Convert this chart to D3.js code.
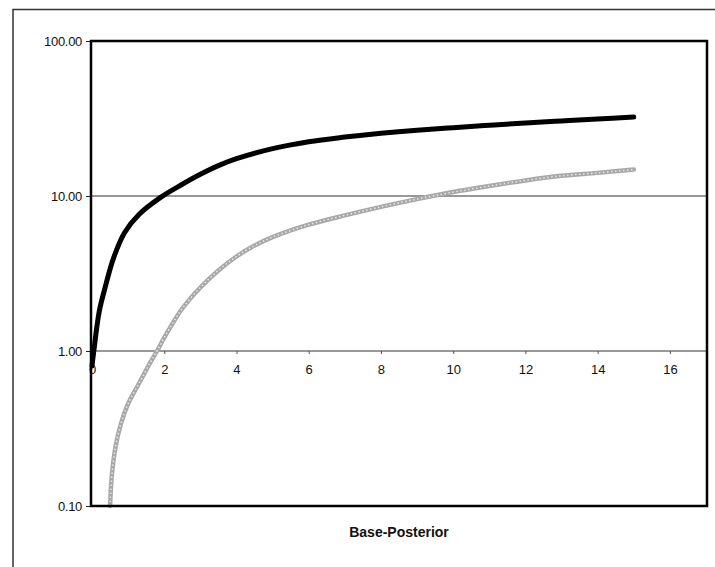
<!DOCTYPE html>
<html><head><meta charset="utf-8">
<script src="https://cdn.jsdelivr.net/npm/d3@7"></script>
<style>body{margin:0;background:#fff}svg{display:block}text{font-family:Arial,"Liberation Sans",sans-serif}</style>
</head><body>
<svg id="c" width="715" height="567"></svg>
<script>
const xTicks = [0, 2, 4, 6, 8, 10, 12, 14, 16];
const yTicks = [0.1, 1, 10, 100];
const yGrid = [1, 10];
const xTitle = "Base-Posterior";

const xBlack = [0, 0.05, 0.2, 0.35, 0.6, 0.9, 1.3, 1.9, 2.5, 3, 3.5, 4, 5, 6, 7, 8, 9, 10, 11, 12, 13, 14, 15];
const yBlack = [0.8, 1.0, 1.8, 2.5, 4.0, 5.8, 7.6, 9.8, 11.9, 13.8, 15.7, 17.4, 20.2, 22.4, 24.0, 25.4, 26.6, 27.6, 28.6, 29.6, 30.5, 31.4, 32.3];

const xGray = [0.5, 0.55, 0.65, 0.8, 1.0, 1.3, 1.6, 1.8, 2.0, 2.25, 2.5, 3.0, 3.5, 4, 4.5, 5, 6, 7, 8, 9, 10, 11, 12, 13, 14, 15];
const yGray = [0.1, 0.158, 0.24, 0.339, 0.457, 0.617, 0.832, 1.0, 1.22, 1.53, 1.88, 2.57, 3.31, 4.07, 4.79, 5.43, 6.53, 7.5, 8.51, 9.55, 10.6, 11.6, 12.6, 13.5, 14.1, 14.8];

const svg = d3.select("#c");
const L = 91, R = 707, T = 41, B = 506;
const x = d3.scaleLinear().domain([0, 17]).range([92, 706]);
const y = d3.scaleLog().domain([0.1, 100]).range([B, T]);

// outer frame
svg.append("path").attr("d", `M13,580 L13,9.5 L720,9.5`).attr("fill","none").attr("stroke","#333").attr("stroke-width",1.5);

// gridlines
svg.selectAll(".grid").data(yGrid).enter().append("line")
  .attr("x1", L).attr("x2", R).attr("y1", d => y(d)).attr("y2", d => y(d))
  .attr("stroke", "#333").attr("stroke-width", 1.2);

// y axis
const yAxis = d3.axisLeft(y).tickValues(yTicks).tickFormat(d3.format(".2f")).tickSize(5).tickPadding(4);
const gy = svg.append("g").attr("transform", `translate(${L},0)`).call(yAxis);
gy.select(".domain").remove();
gy.selectAll("text").attr("font-size", 13).attr("letter-spacing", "-0.3px").attr("fill", "#111");
gy.selectAll("line").attr("stroke", "#222");

// x axis crossing at y=1
const xAxis = d3.axisBottom(x).tickValues(xTicks).tickFormat(d3.format("d")).tickSize(3).tickPadding(11);
const gx = svg.append("g").attr("transform", `translate(0,${y(1)})`).call(xAxis);
gx.select(".domain").remove();
gx.selectAll("text").attr("font-size", 13).attr("fill", "#111");
gx.selectAll("line").attr("stroke", "#555");

// series
const curve = d3.curveCatmullRom.alpha(0.5);
const lineB = d3.line().x((d, i) => x(xBlack[i])).y(d => y(d)).curve(curve);
const lineG = d3.line().x((d, i) => x(xGray[i])).y(d => y(d)).curve(curve);

svg.append("path").attr("d", lineG(yGray)).attr("fill", "none")
  .attr("stroke", "#a8a8a8").attr("stroke-width", 4.5).attr("stroke-linecap", "round");
svg.append("path").attr("d", lineG(yGray)).attr("fill", "none")
  .attr("stroke", "#e8e8e8").attr("stroke-width", 1.5).attr("stroke-dasharray", "1.5,2.5");

svg.append("path").attr("d", lineB(yBlack)).attr("fill", "none")
  .attr("stroke", "#000").attr("stroke-width", 5).attr("stroke-linecap", "round");

// plot border
svg.append("rect").attr("x", L).attr("y", T).attr("width", R - L).attr("height", B - T)
  .attr("fill", "none").attr("stroke", "#000").attr("stroke-width", 2.5);

// x title
svg.append("text").attr("x", (L + R) / 2).attr("y", 537).attr("text-anchor", "middle")
  .attr("font-size", 14).attr("font-weight", "bold").attr("fill", "#111").text(xTitle);
</script>
</body></html>
